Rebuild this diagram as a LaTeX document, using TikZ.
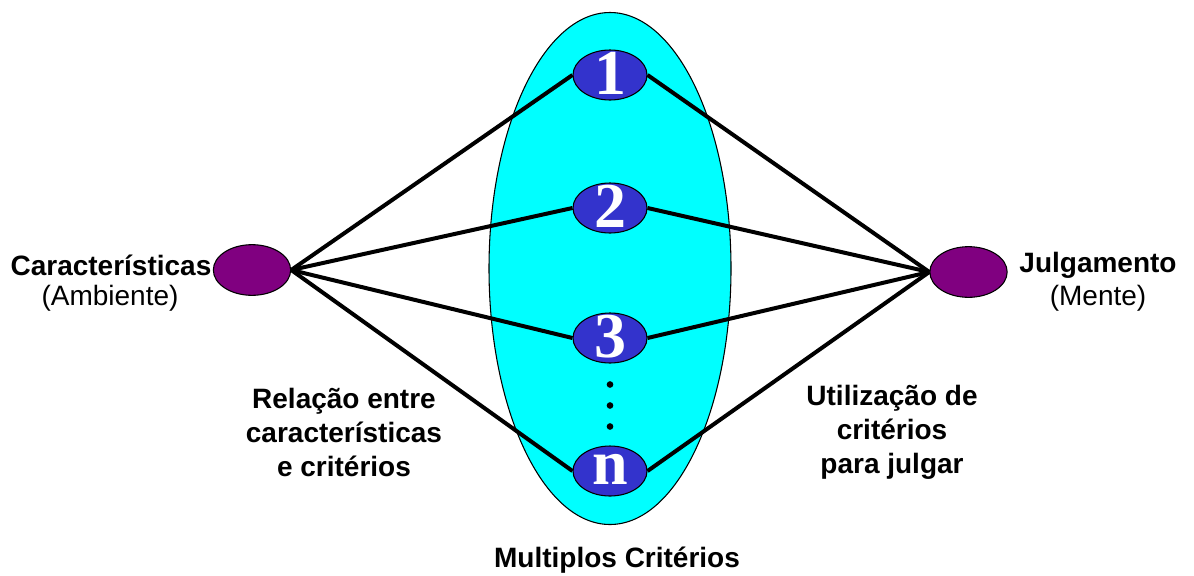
\documentclass[tikz,border=0pt]{standalone}
\usepackage{fontspec}
\setmainfont{Liberation Sans}
\newfontfamily\digitfont{Liberation Serif}
\usetikzlibrary{shapes.geometric}
\definecolor{bigcyan}{HTML}{00FFFF}
\definecolor{critblue}{HTML}{3333CC}
\definecolor{endpurple}{HTML}{800080}
\tikzset{
  crit/.style={ellipse, draw=black, line width=0.8pt, fill=critblue, minimum width=55.5pt, minimum height=37.5pt, inner sep=0pt},
  critlabel/.style={text=white, font=\digitfont\bfseries\fontsize{48}{48}\selectfont, yshift=1pt},
  endnode/.style={ellipse, draw=black, line width=0.8pt, fill=endpurple, minimum width=58pt, minimum height=38pt, inner sep=0pt},
  conn/.style={line width=3pt, draw=black},
  lbl/.style={font=\fontsize{21}{25.5}\selectfont, align=center, inner sep=0pt},
  blbl/.style={font=\bfseries\fontsize{21}{25.5}\selectfont, align=center, inner sep=0pt},
  dot/.style={circle, fill=black, inner sep=0pt, minimum size=5pt}
}
\begin{document}
\begin{tikzpicture}[x=0.75pt,y=-0.75pt]
\useasboundingbox (0,0) rectangle (1194,575);
\node[ellipse, draw=black, line width=0.8pt, fill=bigcyan, minimum width=181.5pt, minimum height=384pt, inner sep=0pt] (big) at (610,268.5) {};
\node[endnode] (L) at (252,270) {};
\node[endnode] (R) at (968.5,272) {};
\node[crit, label={[critlabel]center:1}] (c1) at (610,75) {};
\node[crit, label={[critlabel]center:2}] (c2) at (610,208) {};
\node[crit, label={[critlabel]center:3}] (c3) at (610,338) {};
\node[crit, label={[critlabel]center:n}] (cn) at (610,471) {};
\node[dot] (d1) at (610,384.5) {};
\node[dot] (d2) at (610,405.5) {};
\node[dot] (d3) at (610,426.5) {};
\foreach \c in {c1,c2,c3,cn} {
  \draw[conn] (L.east) -- (\c.west);
  \draw[conn] (\c.east) -- (R.west);
}
\node[blbl] (lt) at (111,265) {Características};
\node[lbl] (lb) at (110,298) {(Ambiente)};
\node[blbl] (rt) at (1098,265) {Julgamento};
\node[lbl] (rb) at (1098,298) {(Mente)};
\node[blbl] (rel) at (344,432) {Relação entre\\características\\e critérios};
\node[blbl] (uti) at (892,432) {Utilização de\\critérios\\para julgar};
\node[blbl] (mc) at (617,560) {Multiplos Critérios};
\end{tikzpicture}
\end{document}
